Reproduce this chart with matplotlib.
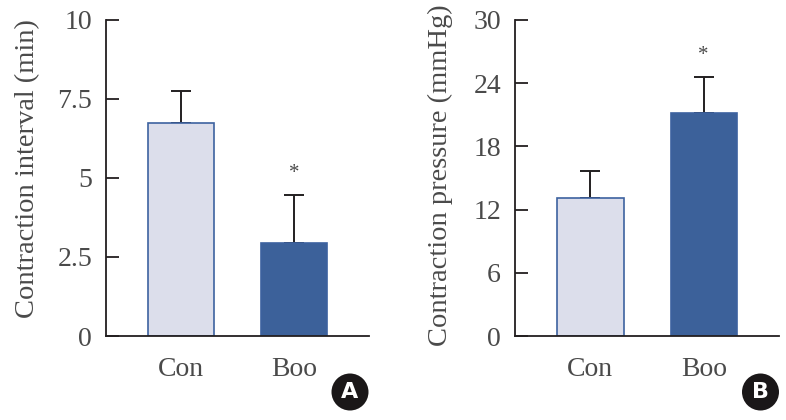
import numpy as np
import matplotlib
matplotlib.use("Agg")
import matplotlib.pyplot as plt
from matplotlib.patches import Circle

# data
groups = ["Con", "Boo"]
interval_mean = [6.75, 2.95]
interval_sd = [1.0, 1.5]
pressure_mean = [13.1, 21.2]
pressure_sd = [2.6, 3.35]

interval_ticks = [0, 2.5, 5, 7.5, 10]
interval_ticklabels = ["0", "2.5", "5", "7.5", "10"]
pressure_ticks = [0, 6, 12, 18, 24, 30]

LIGHT = "#dcdeeb"
DARK = "#3c619a"
EDGE = "#3d62a0"
INK = "#231f20"
TXT = "#4a4a4a"
FS = 20

plt.rcParams["font.family"] = ["Liberation Serif", "DejaVu Serif"]

fig = plt.figure(figsize=(7.86, 4.2), dpi=100)
axA = fig.add_axes([0.1349, 0.2, 0.3346, 0.7524])
axB = fig.add_axes([0.6552, 0.2, 0.3359, 0.7524])


def panel(ax, means, sds, ymax, ticks, ticklabels, ylabel, lpad, ly):
    x = np.arange(len(groups))
    ax.bar(x, means, width=0.585, color=[LIGHT, DARK], edgecolor=EDGE,
           linewidth=1.2, zorder=2)
    ax.errorbar(x, means, yerr=[np.zeros(len(sds)), sds], fmt="none",
                ecolor=INK, elinewidth=1.4, capsize=7, capthick=1.4, zorder=1)
    # significance marker above the Boo bar
    top = means[1] + sds[1]
    ax.text(x[1], top + ymax * 0.07, "*", ha="center", va="center",
            fontsize=15, color=TXT)
    ax.set_xlim(-0.665, 1.664)
    ax.set_ylim(0, ymax)
    ax.set_xticks(x)
    ax.set_xticklabels(groups)
    ax.set_yticks(ticks)
    ax.set_yticklabels(ticklabels)
    ax.tick_params(axis="y", direction="in", length=9, width=1.3, color=INK,
                   labelsize=FS, labelcolor=TXT, pad=10)
    ax.tick_params(axis="x", length=0, labelsize=FS, labelcolor=TXT, pad=15)
    for s in ("top", "right"):
        ax.spines[s].set_visible(False)
    for s in ("left", "bottom"):
        ax.spines[s].set_color(INK)
        ax.spines[s].set_linewidth(1.3)
    ax.set_ylabel(ylabel, fontsize=20.5, color=TXT, labelpad=lpad)
    ax.yaxis.label.set_y(ly)
    ax.patch.set_visible(False)


panel(axA, interval_mean, interval_sd, 10, interval_ticks, interval_ticklabels,
      "Contraction interval (min)", 12.5, 0.53)
panel(axB, pressure_mean, pressure_sd, 30, pressure_ticks,
      [str(t) for t in pressure_ticks], "Contraction pressure (mmHg)", 15, 0.51)

# panel letters in black discs
for letter, cx in (("A", 350), ("B", 760.5)):
    xf, yf = cx / 786, 1 - 392 / 420
    fig.patches.append(Circle((cx, 420 - 392), 18.5, transform=None,
                              facecolor="#1a1718", edgecolor="none"))
    fig.text(xf, yf, letter, ha="center", va="center", color="white",
             fontsize=16, fontweight="bold", family="DejaVu Sans")

fig.savefig("out.png", dpi=100)
